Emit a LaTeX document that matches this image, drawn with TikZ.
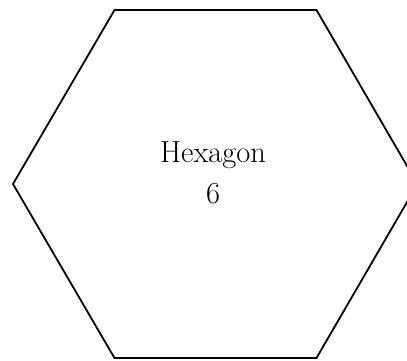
\documentclass[tikz,border=0pt]{standalone}
\begin{document}
\begin{tikzpicture}[x=1pt,y=-1pt,
  hexline/.style={draw=black,line width=1.8pt,line join=miter},
  lbl/.style={align=center,font=\fontsize{30.5}{41}\selectfont,inner sep=0pt}]
\useasboundingbox (0,0) rectangle (407,360);
\begin{scope}
\clip (0,0) rectangle (407,360);
\coordinate (v1) at (114.5,10);
\coordinate (v2) at (316.5,10);
\coordinate (v3) at (417.5,184);
\coordinate (v4) at (316.5,358);
\coordinate (v5) at (114.5,358);
\coordinate (v6) at (13,184);
\draw[hexline] (v1) -- (v2) -- (v3) -- (v4) -- (v5) -- (v6) -- cycle;
\end{scope}
\node[lbl] (t) at (213,173) {Hexagon\\6};
\end{tikzpicture}
\end{document}
